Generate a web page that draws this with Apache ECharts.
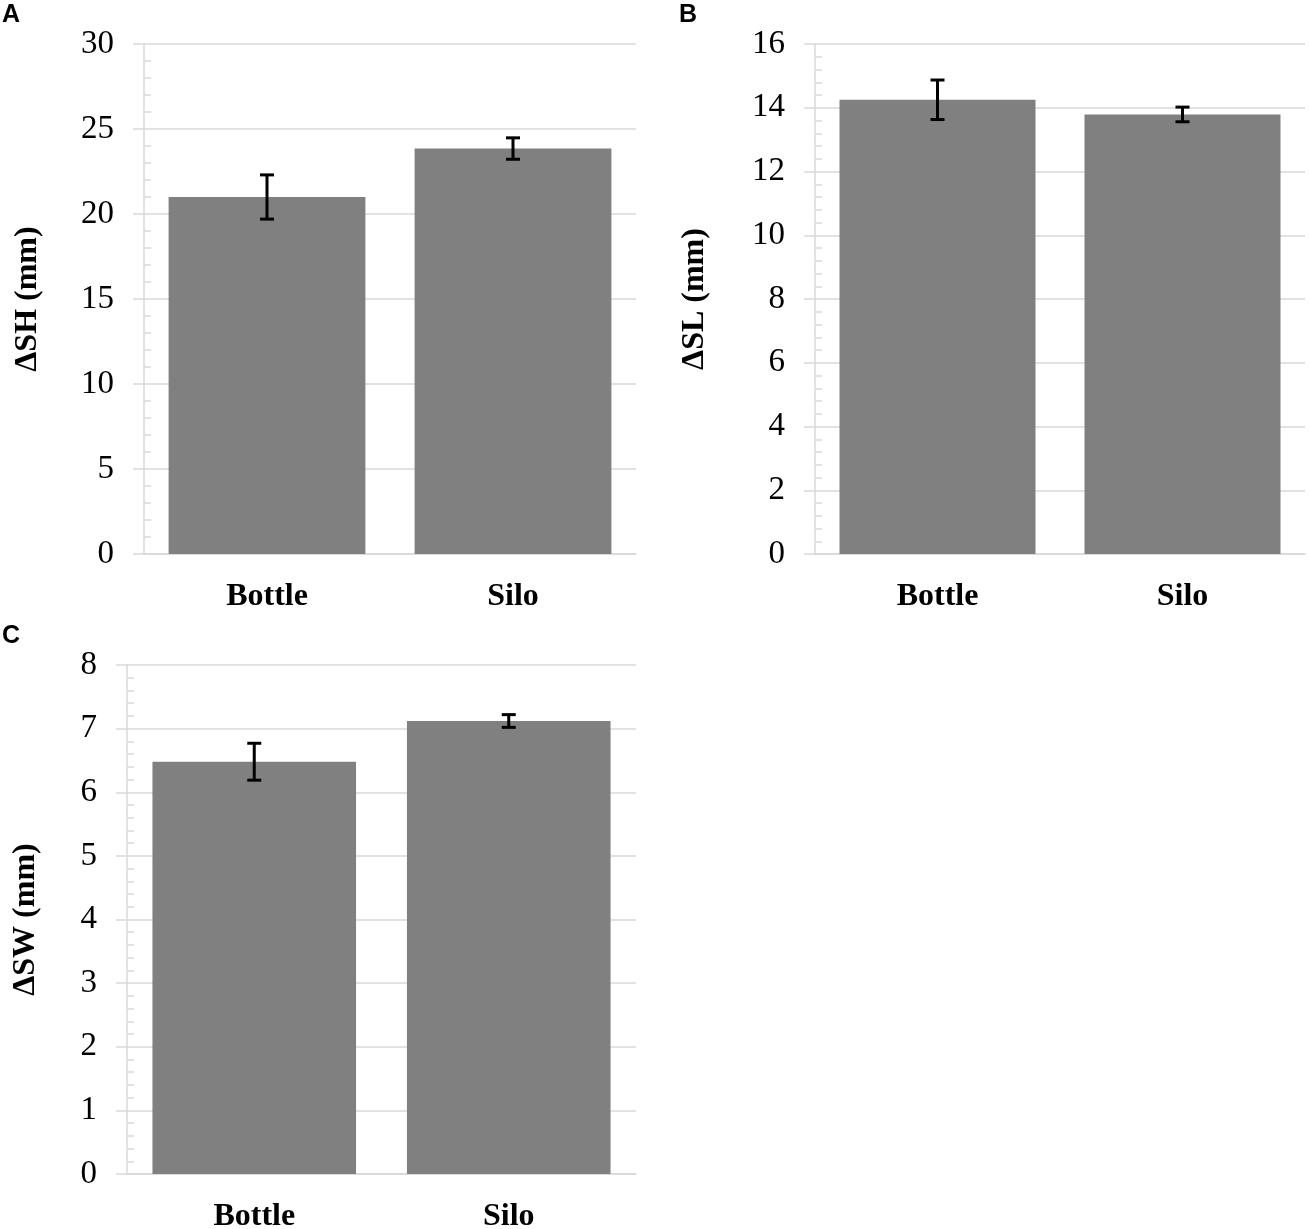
<!DOCTYPE html>
<html>
<head>
<meta charset="utf-8">
<script src="https://cdn.jsdelivr.net/npm/echarts@6/dist/echarts.min.js"></script>
<style>
html, body { margin: 0; padding: 0; background: #fff; }
#chart { width: 1309px; height: 1229px; }
</style>
</head>
<body>
<div id="chart"></div>
<script>
// data
const categories = ['Bottle', 'Silo'];

const shMean = [21.0, 23.85];
const shErr = [1.3, 0.63];
const slMean = [14.25, 13.79];
const slErr = [0.62, 0.23];
const swMean = [6.48, 7.12];
const swErr = [0.29, 0.10];

// y axis ranges [min, max, interval]
const shRange = [0, 30, 5];
const slRange = [0, 16, 2];
const swRange = [0, 8, 1];

const serif = '"Liberation Serif", "Times New Roman", serif';
const gridGray = '#d9d9d9';

// panel layout
const panels = [
    { letter: 'A', name: '\u0394SH (mm)', mean: shMean, err: shErr, range: shRange,
      left: 144, top: 44, width: 492, height: 510, nameGap: 100, letterPos: [2, 3] },
    { letter: 'B', name: '\u0394SL (mm)', mean: slMean, err: slErr, range: slRange,
      left: 815, top: 44, width: 490, height: 510, nameGap: 104, letterPos: [679, 3] },
    { letter: 'C', name: '\u0394SW (mm)', mean: swMean, err: swErr, range: swRange,
      left: 127, top: 665, width: 509, height: 509, nameGap: 85, letterPos: [2, 624] }
];

function errorBarItem(params, api) {
    let x = api.value(0);
    let y = api.value(1);
    let e = api.value(2);
    let top = api.coord([x, y + e]);
    let bot = api.coord([x, y - e]);
    let half = 7;
    let style = { stroke: '#000', lineWidth: 3 };
    return {
        type: 'group',
        children: [
            { type: 'line', shape: { x1: top[0], y1: top[1], x2: bot[0], y2: bot[1] }, style: style },
            { type: 'line', shape: { x1: top[0] - half, y1: top[1], x2: top[0] + half, y2: top[1] }, style: style },
            { type: 'line', shape: { x1: bot[0] - half, y1: bot[1], x2: bot[0] + half, y2: bot[1] }, style: style }
        ]
    };
}

let grids = [], xAxes = [], yAxes = [], series = [], graphics = [];

panels.forEach(function (p, i) {
    grids.push({ left: p.left, top: p.top, width: p.width, height: p.height, outerBoundsMode: 'none' });

    xAxes.push({
        type: 'category',
        gridIndex: i,
        data: categories,
        axisLine: { show: true, lineStyle: { color: gridGray, width: 1.5 } },
        axisTick: { show: false },
        axisLabel: { margin: 27, color: '#000', fontFamily: serif, fontWeight: 'bold', fontSize: 32 }
    });

    // main axis: labels, grid lines, minor ticks inside
    yAxes.push({
        type: 'value',
        gridIndex: i,
        min: p.range[0],
        max: p.range[1],
        interval: p.range[2],
        name: p.name,
        nameLocation: 'middle',
        nameGap: p.nameGap,
        nameTextStyle: { color: '#000', fontFamily: serif, fontWeight: 'bold', fontSize: 32 },
        axisLine: { show: true, lineStyle: { color: gridGray, width: 1.5 } },
        axisTick: { show: false, inside: true },
        minorTick: { show: true, splitNumber: 5, length: 7, lineStyle: { color: gridGray, width: 1.5 } },
        splitLine: { show: true, lineStyle: { color: gridGray, width: 1.5 } },
        axisLabel: { margin: 30, color: '#000', fontFamily: serif, fontSize: 33 }
    });

    // second axis only for the outward major ticks
    yAxes.push({
        type: 'value',
        gridIndex: i,
        position: 'left',
        min: p.range[0],
        max: p.range[1],
        interval: p.range[2],
        axisLine: { show: false },
        axisTick: { show: true, length: 11, lineStyle: { color: gridGray, width: 1.5 } },
        axisLabel: { show: false },
        splitLine: { show: false }
    });

    series.push({
        type: 'bar',
        xAxisIndex: i,
        yAxisIndex: i * 2,
        barWidth: '80%',
        itemStyle: { color: '#808080' },
        silent: true,
        data: p.mean
    });

    series.push({
        type: 'custom',
        xAxisIndex: i,
        yAxisIndex: i * 2,
        renderItem: errorBarItem,
        z: 10,
        silent: true,
        data: categories.map(function (c, j) { return [j, p.mean[j], p.err[j]]; })
    });

    graphics.push({
        type: 'text',
        left: p.letterPos[0],
        top: p.letterPos[1],
        style: { text: p.letter, fill: '#000', font: 'bold 25px "Liberation Sans"' }
    });
});

let chart = echarts.init(document.getElementById('chart'));
chart.setOption({
    backgroundColor: '#fff',
    animation: false,
    grid: grids,
    xAxis: xAxes,
    yAxis: yAxes,
    series: series,
    graphic: graphics
});
</script>
</body>
</html>
